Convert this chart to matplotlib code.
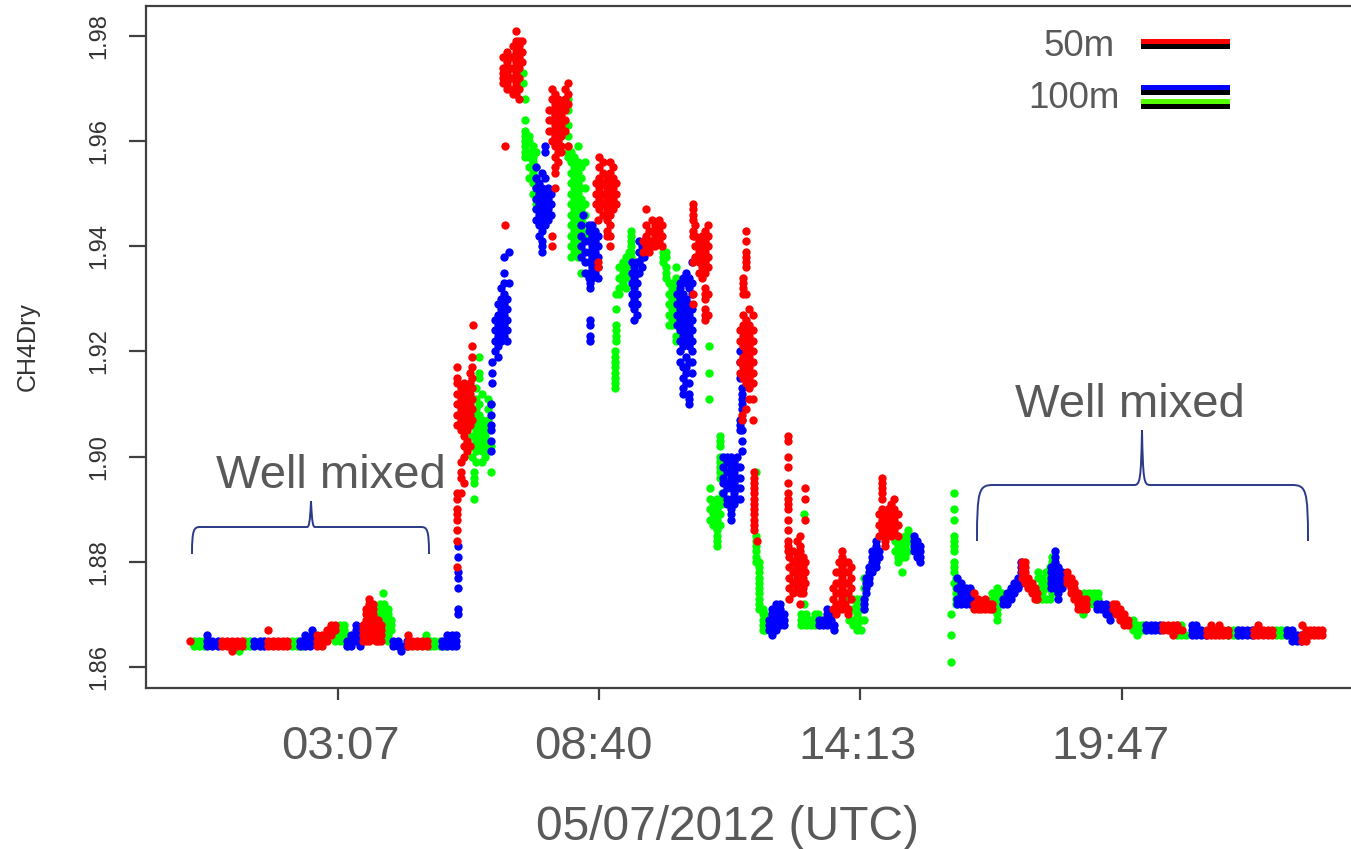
import matplotlib
matplotlib.use('Agg')
import matplotlib.pyplot as plt
from matplotlib.patches import PathPatch, Rectangle
from matplotlib.path import Path
from matplotlib.transforms import ScaledTranslation

# Each row is (minutes since 00:00 UTC, [CH4 readings in ppb])
red_columns = [
    (-2, [1865]), (39, [1865, 1864]), (45, [1865, 1864]), (52, [1865, 1864, 1863]), (58, [1865, 1864]),
    (64, [1865, 1864]), (98, [1867, 1865, 1864]), (104, [1865, 1864]), (110, [1865, 1864]),
    (117, [1865, 1864]), (122, [1865, 1864]), (160, [1866, 1865, 1864]), (167, [1866, 1865, 1864]),
    (173, [1867, 1866, 1865]), (178, [1868, 1867, 1866]), (183, [1868, 1867]),
    (219, [1868, 1867, 1866, 1865]), (223, [1871, 1870, 1869, 1868, 1867, 1866, 1865]),
    (227, [1873, 1872, 1871, 1870, 1869, 1868, 1867, 1866, 1865]),
    (231, [1872, 1871, 1870, 1869, 1868, 1867, 1866]), (235, [1869, 1868, 1867, 1866, 1865]),
    (238, [1869, 1868, 1867, 1866, 1865]), (242, [1868, 1867, 1866, 1865]),
    (276, [1866, 1865, 1864]), (282, [1865, 1864]), (288, [1865, 1864]), (294, [1865, 1864]), (300, [1865, 1864]),
    (339, [1892, 1890, 1888, 1886, 1884, 1879, 1906, 1908, 1910, 1912, 1914, 1915, 1917, 1889, 1893]),
    (344, [1893, 1896, 1897, 1899, 1905, 1907, 1909, 1911, 1913]),
    (348, [1895, 1900, 1902, 1904, 1906, 1908, 1910, 1912, 1914]),
    (352, [1901, 1903, 1905, 1907, 1909, 1911, 1913]),
    (356, [1902, 1906, 1908, 1910, 1912, 1914, 1916]),
    (358, [1921, 1919, 1917, 1915, 1913, 1911, 1909, 1907]), (359, [1925]),
    (398, [1976, 1974, 1973, 1972, 1971]), (400, [1959, 1944]), (402, [1977, 1975, 1973, 1971, 1970]),
    (406, [1976, 1974, 1972, 1970]), (410, [1978, 1976, 1974, 1972, 1970, 1969]),
    (414, [1981, 1979, 1977, 1975, 1973, 1971, 1969]), (418, [1979, 1978, 1976, 1974, 1972, 1970, 1968]),
    (422, [1979, 1977, 1975]), (456, [1966, 1964, 1962]),
    (460, [1970, 1968, 1966, 1964, 1962, 1960, 1942, 1940]),
    (464, [1969, 1967, 1965, 1963, 1961, 1959, 1957, 1955, 1954, 1951]),
    (468, [1968, 1966, 1964, 1962, 1960, 1958, 1956]), (472, [1967, 1965, 1963, 1961, 1959, 1958]),
    (476, [1970, 1968, 1966, 1964, 1962]), (480, [1971, 1969, 1967, 1959]),
    (516, [1952, 1950, 1948]), (519, [1945, 1937, 1936]), (520, [1957, 1955, 1953, 1951, 1949, 1947]),
    (525, [1956, 1954, 1952, 1950, 1948, 1946]), (530, [1953, 1951, 1949, 1947, 1945, 1943, 1942]),
    (534, [1956, 1954, 1952, 1950, 1948, 1946, 1944, 1942, 1940]), (538, [1955, 1953, 1951, 1949, 1947]),
    (542, [1952, 1950, 1948]),
    (576, [1941, 1939]), (580, [1947, 1944, 1942, 1940]), (584, [1943, 1941, 1939]),
    (588, [1945, 1943, 1941, 1940]), (592, [1944, 1942, 1940]), (596, [1945, 1943, 1941]), (600, [1944, 1942, 1940]),
    (640, [1948, 1947, 1946, 1945, 1943, 1942, 1937, 1931, 1929]), (643, [1944, 1942, 1940, 1938]),
    (647, [1941, 1939, 1937, 1935]), (651, [1942, 1940, 1938, 1936, 1934]),
    (655, [1943, 1941, 1939, 1937, 1935, 1932, 1931, 1930, 1928, 1927, 1926]),
    (659, [1944, 1942, 1940, 1938, 1936, 1931, 1927]),
    (700, [1924, 1922, 1918, 1916]), (702, [1908, 1907]),
    (704, [1934, 1933, 1932, 1931, 1927, 1925, 1923, 1921, 1919, 1917, 1915]),
    (708, [1943, 1941, 1939, 1938, 1937, 1936, 1931, 1926, 1924, 1922, 1920, 1918, 1916, 1914, 1909]),
    (712, [1928, 1925, 1923, 1921, 1919, 1917, 1915, 1913, 1911]),
    (716, [1927, 1924, 1922, 1920, 1918, 1916, 1914, 1911, 1907]),
    (718, [1897, 1896, 1895, 1894, 1893, 1892, 1891, 1890, 1889, 1888, 1887, 1886]), (721, [1884]),
    (761, [1904, 1903, 1900, 1898, 1895, 1893, 1892, 1891, 1890, 1888, 1886, 1884, 1883, 1882]),
    (763, [1881, 1879, 1877, 1875, 1873]), (767, [1882, 1880, 1878, 1876, 1874]),
    (772, [1884, 1881, 1879, 1877, 1875]), (776, [1885, 1883, 1882, 1880, 1878, 1876, 1874, 1872]),
    (780, [1881, 1879, 1877, 1875, 1874]), (783, [1894, 1892, 1888, 1880, 1878, 1876]),
    (818, [1875, 1873, 1871]), (822, [1878, 1876, 1874, 1872, 1870]), (826, [1880, 1878, 1876, 1874, 1872, 1871]),
    (830, [1882, 1881, 1879, 1877, 1875, 1873, 1871]), (834, [1880, 1878, 1876, 1874, 1872]),
    (838, [1880, 1878, 1876, 1874, 1871, 1870]), (842, [1879, 1877, 1875, 1873]),
    (877, [1889, 1887, 1885]), (881, [1896, 1895, 1894, 1893, 1892, 1890, 1888, 1886]),
    (885, [1889, 1887, 1885, 1884, 1883]), (889, [1890, 1888, 1886]), (893, [1891, 1889, 1887, 1885]),
    (897, [1892, 1890, 1888, 1886]), (901, [1889, 1887, 1885]),
    (998, [1874, 1872, 1871]), (1003, [1873, 1872, 1871]), (1008, [1872, 1871]), (1013, [1873, 1872, 1871]),
    (1018, [1872, 1871]), (1022, [1872, 1871]),
    (1060, [1880, 1879, 1878, 1877]), (1064, [1880, 1879, 1878, 1877, 1876]), (1068, [1877, 1876, 1875]),
    (1072, [1876, 1875, 1874]), (1076, [1875, 1874, 1873]), (1079, [1874, 1873]),
    (1117, [1878, 1877, 1876]), (1122, [1877, 1876, 1875, 1874]), (1126, [1876, 1875, 1874, 1873]),
    (1131, [1874, 1873, 1872, 1871]), (1136, [1873, 1872, 1871]), (1141, [1873, 1872, 1871]),
    (1176, [1872, 1871]), (1180, [1872, 1871, 1870]), (1185, [1871, 1870, 1869]), (1190, [1870, 1869, 1868]),
    (1195, [1869, 1868]),
    (1240, [1868, 1867]), (1246, [1868, 1867]), (1252, [1868, 1867, 1866]), (1258, [1868, 1867]), (1264, [1867]),
    (1296, [1867, 1866]), (1301, [1868, 1867, 1866]), (1306, [1867, 1866]), (1311, [1868, 1867, 1866]),
    (1316, [1867, 1866]), (1322, [1867, 1866]),
    (1356, [1867, 1866]), (1361, [1868, 1867, 1866]), (1367, [1867, 1866]), (1373, [1867, 1866]), (1379, [1867, 1866]),
    (1417, [1868, 1866, 1865]), (1422, [1867, 1866, 1865]), (1427, [1867, 1866]), (1432, [1867, 1866]),
    (1437, [1867, 1866]), (1442, [1867, 1866]),
]
green_columns = [
    (3, [1865, 1864]), (10, [1865, 1864]), (16, [1865, 1864]), (61, [1863]), (68, [1865, 1864]), (75, [1865, 1864]),
    (128, [1865, 1864]), (135, [1865, 1864]), (141, [1865, 1864]), (183, [1866, 1865]),
    (190, [1868, 1867, 1866, 1865]), (195, [1868, 1867, 1866, 1865]), (198, [1866, 1864]),
    (241, [1872, 1871, 1870, 1869, 1868, 1867, 1866]), (244, [1874]),
    (246, [1872, 1871, 1870, 1869, 1868, 1867, 1866]), (251, [1871, 1870, 1869, 1868, 1867, 1866, 1865]),
    (255, [1869, 1868, 1867]), (299, [1866]), (304, [1865, 1864]), (310, [1865, 1864]), (317, [1865, 1864]),
    (323, [1865, 1864]),
    (358, [1908, 1906, 1904, 1902, 1900]), (360, [1897, 1896, 1895, 1892]),
    (363, [1913, 1911, 1909, 1907, 1905, 1903, 1901, 1899]), (367, [1919, 1916, 1915, 1910, 1908, 1906, 1904, 1902]),
    (371, [1912, 1907, 1905, 1903, 1901, 1899]), (375, [1906, 1904, 1902, 1900]),
    (379, [1911, 1909, 1907, 1905, 1903, 1901]), (382, [1897, 1910, 1902]),
    (423, [1973, 1971]), (425, [1968]), (426, [1964, 1962, 1961, 1960, 1959, 1958, 1957]),
    (431, [1961, 1960, 1958, 1957, 1955, 1953]), (436, [1959, 1957, 1956, 1954, 1952, 1950]),
    (440, [1958, 1955, 1953, 1951, 1949, 1948, 1947]),
    (480, [1968, 1966, 1963, 1961, 1959, 1958, 1957]), (484, [1958, 1956, 1954, 1952, 1950, 1948, 1946, 1944, 1942, 1940, 1938]),
    (488, [1957, 1955, 1953, 1951, 1949, 1947, 1945, 1943, 1941, 1939]),
    (493, [1959, 1956, 1954, 1952, 1950, 1948, 1946, 1944, 1942, 1940, 1938]),
    (497, [1955, 1953, 1951, 1949, 1947, 1945, 1943, 1941, 1939, 1935]), (502, [1956, 1951, 1948, 1946, 1944, 1942]),
    (540, [1920, 1919, 1918, 1917, 1916, 1915, 1914, 1913]), (542, [1931, 1928, 1925, 1924, 1923, 1922]),
    (546, [1936, 1934, 1932, 1931]), (550, [1937, 1935, 1933]), (554, [1938, 1936, 1934, 1932]),
    (558, [1939, 1937, 1935]), (561, [1943, 1942, 1941, 1940, 1939, 1938]),
    (602, [1939, 1938, 1937]), (606, [1939, 1938, 1936, 1935, 1934]), (609, [1933, 1931, 1929, 1927, 1925]),
    (613, [1933, 1932, 1930, 1928, 1926, 1925]), (618, [1936, 1934, 1933, 1931, 1929, 1927, 1925, 1923, 1922]),
    (622, [1932, 1930, 1928, 1926]), (660, [1921, 1916, 1911]),
    (675, [1904, 1903, 1902, 1900, 1899, 1898, 1897, 1896]), (661, [1894, 1892, 1890, 1888]),
    (666, [1891, 1889, 1887]), (670, [1892, 1890, 1888, 1886, 1885, 1884, 1883]), (674, [1891, 1889, 1887]),
    (677, [1893, 1892, 1891]),
    (720, [1897, 1885, 1884, 1883, 1882, 1881, 1880]), (724, [1880, 1879, 1878, 1877, 1876, 1875, 1874, 1873, 1872, 1871]),
    (729, [1871, 1870, 1869, 1868, 1867]), (732, [1870, 1869, 1868, 1867]),
    (781, [1889]), (782, [1872]), (778, [1870, 1869, 1868]), (784, [1870, 1869, 1868]), (790, [1869, 1868]),
    (795, [1870, 1869, 1868]), (800, [1870, 1869]),
    (839, [1873, 1871, 1869]), (844, [1873, 1871, 1869, 1868]), (849, [1873, 1872, 1870, 1868, 1867]),
    (854, [1873, 1871, 1869, 1867]), (858, [1877, 1875, 1873, 1871, 1869]),
    (898, [1889, 1884, 1882]), (902, [1885, 1883, 1881, 1880]), (906, [1884, 1882, 1881, 1878]),
    (910, [1885, 1883, 1881]), (914, [1886, 1884, 1882]), (918, [1885, 1884]),
    (969, [1870, 1866, 1861]), (976, [1877, 1875, 1874, 1873, 1872]),
    (973, [1893, 1890, 1888, 1885, 1884, 1883, 1882, 1880, 1879, 1878, 1876]),
    (1022, [1874, 1873, 1872, 1871]), (1028, [1875, 1874, 1873, 1872, 1871, 1870, 1869]),
    (1034, [1874, 1873]),
    (1080, [1878, 1877, 1875, 1873]), (1085, [1877, 1876, 1875, 1874, 1873]), (1090, [1878, 1876, 1875, 1873]),
    (1095, [1879, 1877, 1875, 1873]), (1098, [1881, 1880, 1879, 1878, 1876, 1874]),
    (1138, [1870]), (1139, [1874, 1873, 1872]), (1145, [1874, 1873, 1872]), (1151, [1874, 1873, 1872]),
    (1157, [1874, 1873]), (1201, [1869, 1868, 1867]), (1207, [1868, 1867, 1866]), (1213, [1868, 1867]),
    (1217, [1868, 1867]), (1257, [1868, 1867, 1866]), (1263, [1868, 1867, 1866]), (1269, [1866]),
    (1323, [1867, 1866]), (1329, [1867, 1866]), (1334, [1867, 1866]),
    (1384, [1867, 1866]), (1390, [1867, 1866]), (1396, [1867, 1866]),
]
blue_columns = [
    (20, [1866, 1865, 1864]), (26, [1865, 1864]), (34, [1865, 1864]), (80, [1865, 1864]), (87, [1865, 1864]),
    (93, [1865, 1864]), (139, [1865, 1864]), (145, [1866, 1865, 1864]), (151, [1865, 1864]), (154, [1867, 1866]),
    (198, [1865, 1864]), (204, [1866, 1865, 1864]), (210, [1868, 1867, 1866, 1865]), (215, [1867, 1866, 1865, 1864]),
    (257, [1865, 1864]), (263, [1865, 1864]), (268, [1864, 1863]), (275, [1865, 1864]),
    (320, [1865, 1864]), (326, [1866, 1865, 1864]), (332, [1866, 1865, 1864]), (338, [1866, 1865, 1864]),
    (340, [1883, 1881, 1878, 1877, 1875, 1871, 1870]),
    (382, [1910, 1908, 1906, 1905, 1903, 1901]), (384, [1918, 1916, 1914]),
    (387, [1926, 1924, 1922, 1920]), (391, [1929, 1927, 1925, 1923, 1921, 1919]),
    (395, [1932, 1930, 1928, 1926, 1924, 1922]), (399, [1935, 1933, 1931, 1929, 1927, 1925, 1923, 1938]),
    (403, [1930, 1928, 1926, 1924, 1922]), (405, [1939, 1933]),
    (439, [1955, 1953, 1951, 1949, 1947, 1945]), (443, [1952, 1950, 1948, 1946, 1944, 1942]),
    (447, [1954, 1951, 1949, 1947, 1945, 1943, 1941, 1940, 1939]), (451, [1959, 1958, 1953, 1950, 1948, 1946, 1944]),
    (455, [1951, 1949, 1947, 1945]), (459, [1950, 1948, 1946]),
    (497, [1944, 1942, 1940, 1938]), (500, [1946]), (502, [1941, 1939, 1937, 1935]),
    (507, [1944, 1943, 1941, 1939, 1937, 1935, 1934]), (509, [1933, 1932, 1926, 1925, 1923, 1922]),
    (511, [1944, 1942, 1940, 1938, 1936, 1934]),
    (515, [1943, 1941, 1939, 1937, 1935]), (519, [1942, 1940, 1938, 1936, 1934]),
    (562, [1937, 1935, 1933, 1931, 1929]), (565, [1936, 1934, 1932, 1930, 1928, 1926]),
    (568, [1937, 1935, 1933, 1931, 1929, 1927]), (571, [1941, 1939, 1937, 1935]),
    (575, [1940, 1938, 1936]), (578, [1939, 1938]),
    (619, [1931, 1929, 1927, 1925]), (623, [1933, 1932, 1930, 1928, 1926, 1924, 1922, 1920, 1918]),
    (627, [1934, 1931, 1929, 1927, 1925, 1923, 1921, 1917, 1915, 1913, 1912]),
    (631, [1935, 1933, 1930, 1928, 1926, 1924, 1922, 1919, 1917, 1916, 1914]),
    (635, [1934, 1932, 1929, 1927, 1925, 1923, 1921, 1918, 1914, 1912, 1911, 1910]),
    (639, [1937, 1933, 1931, 1928, 1926, 1924, 1922, 1920, 1918, 1916]),
    (678, [1900, 1898, 1896, 1895, 1893]), (683, [1900, 1899, 1897, 1895, 1894, 1892, 1891]),
    (688, [1900, 1898, 1896, 1894, 1892, 1890, 1889, 1888]),
    (692, [1899, 1897, 1895, 1893, 1891]),
    (696, [1900, 1898, 1896, 1894, 1892]), (700, [1920, 1918, 1915, 1907, 1906, 1905, 1898, 1896, 1894, 1892]),
    (703, [1913, 1912, 1911, 1910, 1909, 1907, 1905, 1903, 1901]),
    (737, [1869, 1868, 1867]), (741, [1871, 1870, 1869, 1868, 1867, 1866]), (746, [1872, 1871, 1870, 1869, 1868, 1867]),
    (751, [1872, 1871, 1870, 1869, 1868]), (756, [1870, 1869, 1868]),
    (801, [1869, 1868]), (806, [1869, 1868]), (811, [1871, 1870, 1869, 1868]),
    (816, [1870, 1869, 1868]), (820, [1868, 1867]),
    (858, [1873, 1872, 1871]), (861, [1877, 1876, 1875, 1874]), (864, [1879, 1878, 1877, 1876]),
    (868, [1882, 1881, 1880, 1879, 1878]), (873, [1884, 1883, 1882, 1881, 1880, 1879]),
    (877, [1882, 1881]),
    (922, [1885, 1884, 1883, 1882]), (926, [1884, 1883, 1882, 1881]), (930, [1883, 1882, 1881, 1880]),
    (977, [1877, 1875, 1873, 1872]), (982, [1876, 1875, 1874, 1873, 1872]), (988, [1875, 1874, 1873, 1872]),
    (993, [1875, 1874, 1873, 1872]), (997, [1874, 1873, 1872]),
    (1036, [1873, 1872]), (1041, [1874, 1873, 1872]), (1046, [1875, 1874, 1873]), (1050, [1876, 1875, 1874]),
    (1055, [1877, 1876, 1875]), (1058, [1880, 1879, 1878, 1877, 1876]),
    (1097, [1879, 1878, 1877, 1876, 1875]), (1102, [1882, 1881, 1880, 1879, 1878, 1877, 1876, 1875]),
    (1106, [1879, 1878, 1877, 1875, 1874, 1873]), (1111, [1878, 1877, 1876, 1875]),
    (1156, [1872, 1871]), (1161, [1872, 1871]), (1167, [1872, 1871, 1870]), (1172, [1871, 1870, 1869]),
    (1218, [1868, 1867]), (1224, [1868, 1867]), (1230, [1868, 1867]), (1236, [1868, 1867]),
    (1276, [1868, 1867, 1866]), (1282, [1868, 1867, 1866]), (1288, [1867, 1866]), (1294, [1866]),
    (1335, [1867, 1866]), (1341, [1867, 1866]), (1347, [1867, 1866]), (1353, [1867, 1866]),
    (1398, [1867, 1866]), (1404, [1867, 1866, 1865]), (1410, [1866, 1865]), (1416, [1866, 1865]),
]

x_ticks = [187, 520, 853, 1187]
x_tick_labels = ['03:07', '08:40', '14:13', '19:47']
x_label_shift = [2, -6, -2, -11]
y_ticks = [1.86, 1.88, 1.90, 1.92, 1.94, 1.96, 1.98]
y_tick_labels = ['1.86', '1.88', '1.90', '1.92', '1.94', '1.96', '1.98']

WIDTH, HEIGHT = 1351, 849
TEXT_GREY = '#595959'
AXIS_GREY = '#404040'
BRACE_BLUE = '#2b3a86'

plt.rcParams['font.family'] = ['Liberation Sans', 'DejaVu Sans']


def px_x(x):
    return x / WIDTH


def px_y(y):
    return 1 - y / HEIGHT


def plot_columns(ax, columns, color):
    times = []
    values = []
    for t, readings in columns:
        for r in readings:
            times.append(t)
            values.append(r / 1000)
    ax.plot(times, values, linestyle='none', marker='o', markersize=6, markeredgewidth=0, color=color)


def draw_brace(fig, left, right, mid, bottom, line, tip, bend):
    # Curly bracket drawn in figure pixels
    verts = [
        (left, bottom), (left, line + bend * 0.3), (left + 2, line), (left + bend, line),
        (mid - bend * 0.5, line), (mid - 2, line), (mid - 1, line - 4), (mid, tip),
        (mid + 1, line - 4), (mid + 2, line), (mid + bend * 0.5, line),
        (right - bend, line), (right - 2, line), (right, line + bend * 0.3), (right, bottom),
    ]
    codes = [Path.MOVETO, Path.CURVE4, Path.CURVE4, Path.CURVE4,
             Path.LINETO, Path.CURVE4, Path.CURVE4, Path.CURVE4,
             Path.CURVE4, Path.CURVE4, Path.CURVE4,
             Path.LINETO, Path.CURVE4, Path.CURVE4, Path.CURVE4]
    verts = [(px_x(x), px_y(y)) for x, y in verts]
    fig.add_artist(PathPatch(Path(verts, codes), transform=fig.transFigure, fill=False,
                             edgecolor=BRACE_BLUE, linewidth=1.4))


def draw_legend_bar(fig, top, color):
    fig.add_artist(Rectangle((px_x(1141), px_y(top + 5)), 89 / WIDTH, 5 / HEIGHT,
                             transform=fig.transFigure, facecolor=color, edgecolor='none'))
    fig.add_artist(Rectangle((px_x(1141), px_y(top + 10)), 89 / WIDTH, 5 / HEIGHT,
                             transform=fig.transFigure, facecolor='black', edgecolor='none'))


fig = plt.figure(figsize=(WIDTH / 100, HEIGHT / 100), dpi=100)
ax = fig.add_axes([146 / WIDTH, 1 - 688 / HEIGHT, (WIDTH - 146) / WIDTH, (688 - 6) / HEIGHT])

plot_columns(ax, green_columns, '#00ff00')
plot_columns(ax, blue_columns, '#0000ff')
plot_columns(ax, red_columns, '#ff0000')

ax.set_xlim(-58, 1479.5)
ax.set_ylim(1.856, 1.9857)
ax.spines['right'].set_visible(False)
for side in ['left', 'bottom', 'top']:
    ax.spines[side].set_color(AXIS_GREY)
    ax.spines[side].set_linewidth(1.6)

ax.set_xticks(x_ticks)
ax.set_xticklabels(x_tick_labels, fontsize=34, color=TEXT_GREY)
ax.set_yticks(y_ticks)
ax.set_yticklabels(y_tick_labels, fontsize=17, color='#333333', rotation=90, va='center')
ax.tick_params(axis='x', length=8.6, width=1.6, color=AXIS_GREY, pad=18)
ax.tick_params(axis='y', length=12, width=1.6, color=AXIS_GREY, pad=14)

# The hour labels sit a little off their ticks in the original
for label, shift in zip(ax.get_xticklabels(), x_label_shift):
    label.set_transform(label.get_transform() + ScaledTranslation(shift / 100, 0, fig.dpi_scale_trans))

fig.text(px_x(28), px_y(347), 'CH4Dry', fontsize=18, color='#333333', rotation=90, ha='center', va='center')
fig.text(px_x(728), px_y(828), '05/07/2012 (UTC)', fontsize=34.5, color=TEXT_GREY, ha='center', va='center')
fig.text(px_x(331), px_y(476), 'Well mixed', fontsize=34, color=TEXT_GREY, ha='center', va='center')
fig.text(px_x(1130), px_y(405), 'Well mixed', fontsize=34, color=TEXT_GREY, ha='center', va='center')
fig.text(px_x(1115), px_y(46), '50m', fontsize=26.5, color=TEXT_GREY, ha='right', va='center')
fig.text(px_x(1120), px_y(98), '100m', fontsize=26.5, color=TEXT_GREY, ha='right', va='center')

draw_legend_bar(fig, 39, '#ff0000')
draw_legend_bar(fig, 85, '#0000ff')
draw_legend_bar(fig, 99, '#55ff00')

draw_brace(fig, 192, 429, 311, 554, 527, 501, 8)
draw_brace(fig, 977, 1308, 1142, 541, 485, 430, 16)

fig.savefig('out.png', dpi=100)
